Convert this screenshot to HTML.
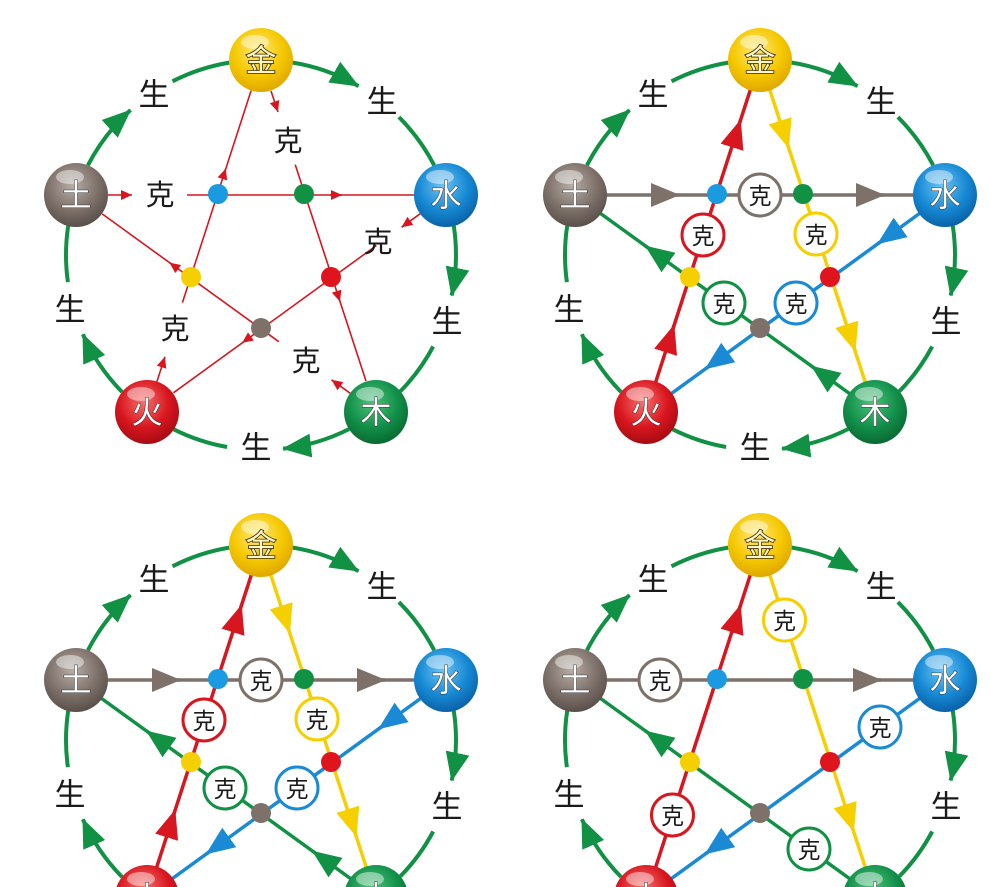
<!DOCTYPE html>
<html><head><meta charset="utf-8"><style>
html,body{margin:0;padding:0;background:#fff;width:991px;height:887px;overflow:hidden;}
svg{display:block;}
text{font-family:"Liberation Sans","Noto Sans CJK SC",sans-serif;text-anchor:middle;dominant-baseline:central;}
.s{font-size:31px;fill:#1a1a1a;}
.k{font-size:29px;fill:#1a1a1a;}
.kc{font-size:23px;fill:#1a1a1a;}
.n{font-size:31px;fill:#fff;stroke:#333;stroke-width:1;paint-order:stroke;}
.nj{font-size:31px;fill:#fff6c8;stroke:#3a2a00;stroke-width:1.6;paint-order:stroke;}
</style></head><body>
<svg width="991" height="887" viewBox="0 0 991 887" xmlns="http://www.w3.org/2000/svg">
<defs>
<radialGradient id="gJ" cx="45%" cy="35%" r="65%"><stop offset="0" stop-color="#ffe97a"/><stop offset="0.6" stop-color="#f5c800"/><stop offset="1" stop-color="#e0a800"/></radialGradient>
<radialGradient id="gS" cx="45%" cy="35%" r="65%"><stop offset="0" stop-color="#6cc3f5"/><stop offset="0.6" stop-color="#1689d4"/><stop offset="1" stop-color="#0a62a8"/></radialGradient>
<radialGradient id="gM" cx="45%" cy="35%" r="65%"><stop offset="0" stop-color="#4cc27a"/><stop offset="0.6" stop-color="#12904a"/><stop offset="1" stop-color="#0a6a32"/></radialGradient>
<radialGradient id="gH" cx="45%" cy="35%" r="65%"><stop offset="0" stop-color="#f7706e"/><stop offset="0.6" stop-color="#d8161f"/><stop offset="1" stop-color="#a80c12"/></radialGradient>
<radialGradient id="gT" cx="45%" cy="35%" r="65%"><stop offset="0" stop-color="#b8aea6"/><stop offset="0.6" stop-color="#7d716a"/><stop offset="1" stop-color="#5a504a"/></radialGradient>
<marker id="ag" markerUnits="userSpaceOnUse" markerWidth="30" markerHeight="24" refX="28" refY="12" orient="auto"><path d="M0,0 L29,12 L0,24 Z" fill="#119144"/></marker>
<marker id="ar" markerUnits="userSpaceOnUse" markerWidth="12" markerHeight="10" refX="11" refY="5" orient="auto"><path d="M0,0 L11,5 L0,10 Z" fill="#d7161f"/></marker>
<marker id="mGy" markerUnits="userSpaceOnUse" markerWidth="30" markerHeight="24" refX="28" refY="12" orient="auto"><path d="M0,0 L29,12 L0,24 Z" fill="#7d716a"/></marker>
<marker id="mY" markerUnits="userSpaceOnUse" markerWidth="30" markerHeight="24" refX="28" refY="12" orient="auto"><path d="M0,0 L29,12 L0,24 Z" fill="#f5cf00"/></marker>
<marker id="mB" markerUnits="userSpaceOnUse" markerWidth="30" markerHeight="24" refX="28" refY="12" orient="auto"><path d="M0,0 L29,12 L0,24 Z" fill="#1a8ad4"/></marker>
<marker id="mG" markerUnits="userSpaceOnUse" markerWidth="30" markerHeight="24" refX="28" refY="12" orient="auto"><path d="M0,0 L29,12 L0,24 Z" fill="#119144"/></marker>
<marker id="mR" markerUnits="userSpaceOnUse" markerWidth="30" markerHeight="24" refX="28" refY="12" orient="auto"><path d="M0,0 L29,12 L0,24 Z" fill="#d7161f"/></marker>
<g id="arcs" fill="none" stroke="#119144" stroke-width="4">
<path d="M291.5,62.4 A195,195 0 0 1 358.5,86.1" marker-end="url(#ag)"/>
<path d="M398.9,117.1 A195,195 0 0 1 434.2,165.3"/>
<path d="M453.8,225.8 A195,195 0 0 1 451.7,295.5" marker-end="url(#ag)"/>
<path d="M433.2,346.5 A195,195 0 0 1 400.3,391.4"/>
<path d="M349,429.1 A195,195 0 0 1 283.1,448.7" marker-end="url(#ag)"/>
<path d="M227.1,447 A195,195 0 0 1 173.7,429.3"/>
<path d="M122.1,392 A195,195 0 0 1 82.9,334.3" marker-end="url(#ag)"/>
<path d="M67.9,282.1 A195,195 0 0 1 68.2,225.8"/>
<path d="M87.9,165.3 A195,195 0 0 1 130.5,110.1" marker-end="url(#ag)"/>
<path d="M172.5,81.3 A195,195 0 0 1 229.2,62.6"/>
</g>
<g id="dots">
<circle cx="218" cy="194" r="10" fill="#1a9ae0"/>
<circle cx="304" cy="194" r="10" fill="#119144"/>
<circle cx="191" cy="277" r="10" fill="#f5cf00"/>
<circle cx="331" cy="277" r="10" fill="#e0141c"/>
<circle cx="261" cy="328" r="10" fill="#7d716a"/>
</g>
<g id="nodes">
<circle cx="261" cy="60" r="32" fill="url(#gJ)"/>
<circle cx="446" cy="195" r="32" fill="url(#gS)"/>
<circle cx="376" cy="412" r="32" fill="url(#gM)"/>
<circle cx="147" cy="412" r="32" fill="url(#gH)"/>
<circle cx="76" cy="195" r="32" fill="url(#gT)"/>
<ellipse cx="255" cy="42" rx="14" ry="7" fill="#fff" opacity="0.45"/>
<ellipse cx="440" cy="177" rx="14" ry="7" fill="#fff" opacity="0.45"/>
<ellipse cx="370" cy="394" rx="14" ry="7" fill="#fff" opacity="0.45"/>
<ellipse cx="141" cy="394" rx="14" ry="7" fill="#fff" opacity="0.45"/>
<ellipse cx="70" cy="177" rx="14" ry="7" fill="#fff" opacity="0.45"/>
</g>
<g id="thick" stroke-width="3.5" fill="none">
<line x1="76" y1="195" x2="446" y2="195" stroke="#7d716a"/>
<line x1="261" y1="60" x2="376" y2="412" stroke="#f5cf00"/>
<line x1="446" y1="195" x2="147" y2="412" stroke="#1a8ad4"/>
<line x1="376" y1="412" x2="76" y2="195" stroke="#119144"/>
<line x1="147" y1="412" x2="261" y2="60" stroke="#d7161f"/>
</g>
</defs>

<!-- Panel 1 -->
<g>
<use href="#arcs"/>
<g stroke="#d7161f" stroke-width="1.6" fill="none">
<path d="M108,195 L132,195" marker-end="url(#ar)"/>
<path d="M187,195 L414,195"/>
<path d="M330,195 L342,195" marker-end="url(#ar)"/>
<path d="M271,91 L278,112" marker-end="url(#ar)"/>
<path d="M295.2,164.6 L366,381"/>
<path d="M336.9,292.1 L340,301.6" marker-end="url(#ar)"/>
<path d="M420.1,213.8 L401.5,227.3" marker-end="url(#ar)"/>
<path d="M376.4,245.5 L173.4,392.8"/>
<path d="M250.2,337 L242.1,342.9" marker-end="url(#ar)"/>
<path d="M350.1,393.2 L331.5,379.8" marker-end="url(#ar)"/>
<path d="M278.8,341.7 L102.2,213.9"/>
<path d="M177.5,268.5 L169.4,262.6" marker-end="url(#ar)"/>
<path d="M156.9,381.6 L164.9,356.8" marker-end="url(#ar)"/>
<path d="M182.4,302.6 L251.1,90.6"/>
<path d="M222.7,178 L225.8,168.5" marker-end="url(#ar)"/>
</g>
<use href="#dots"/>
<text class="k" x="160" y="196">克</text>
<text class="k" x="288" y="142">克</text>
<text class="k" x="378" y="243">克</text>
<text class="k" x="306" y="362">克</text>
<text class="k" x="175" y="330">克</text>
<use href="#nodes"/>
<text class="nj" x="261" y="61">金</text>
<text class="n" x="446" y="196">水</text>
<text class="n" x="376" y="413">木</text>
<text class="n" x="147" y="413">火</text>
<text class="n" x="76" y="196">土</text>
<text class="s" x="154" y="95">生</text>
<text class="s" x="382" y="102">生</text>
<text class="s" x="447" y="322">生</text>
<text class="s" x="256" y="448">生</text>
<text class="s" x="70" y="310">生</text>
</g>

<!-- Panel 2 -->
<g transform="translate(499,0)">
<use href="#arcs"/>
<use href="#thick"/>
<g stroke-width="3.5" fill="none">
<path d="M176,195 L180,195" stroke="#7d716a" marker-end="url(#mGy)"/>
<path d="M381,195 L385,195" stroke="#7d716a" marker-end="url(#mGy)"/>
<path d="M288.4,143.7 L289.6,147.5" stroke="#f5cf00" marker-end="url(#mY)"/>
<path d="M355,347.2 L356.2,351" stroke="#f5cf00" marker-end="url(#mY)"/>
<path d="M382.1,241.4 L378.9,243.7" stroke="#1a8ad4" marker-end="url(#mB)"/>
<path d="M209.7,366.5 L206.5,368.8" stroke="#1a8ad4" marker-end="url(#mB)"/>
<path d="M316,368.6 L312.8,366.3" stroke="#119144" marker-end="url(#mG)"/>
<path d="M150,248.5 L146.8,246.2" stroke="#119144" marker-end="url(#mG)"/>
<path d="M173.8,329.3 L175,325.5" stroke="#d7161f" marker-end="url(#mR)"/>
<path d="M240.2,124.3 L241.4,120.5" stroke="#d7161f" marker-end="url(#mR)"/>
</g>
<use href="#dots"/>
<g fill="#fff" stroke-width="3">
<circle cx="261" cy="195" r="21" stroke="#7d716a"/>
<circle cx="317" cy="234" r="21" stroke="#f5cf00"/>
<circle cx="204" cy="235" r="21" stroke="#d7161f"/>
<circle cx="297" cy="303" r="21" stroke="#1a8ad4"/>
<circle cx="225" cy="303" r="21" stroke="#119144"/>
</g>
<text class="kc" x="261" y="196">克</text>
<text class="kc" x="317" y="235">克</text>
<text class="kc" x="204" y="236">克</text>
<text class="kc" x="297" y="304">克</text>
<text class="kc" x="225" y="304">克</text>
<use href="#nodes"/>
<text class="nj" x="261" y="61">金</text>
<text class="n" x="446" y="196">水</text>
<text class="n" x="376" y="413">木</text>
<text class="n" x="147" y="413">火</text>
<text class="n" x="76" y="196">土</text>
<text class="s" x="154" y="95">生</text>
<text class="s" x="382" y="102">生</text>
<text class="s" x="447" y="322">生</text>
<text class="s" x="256" y="448">生</text>
<text class="s" x="70" y="310">生</text>
</g>

<!-- Panel 3 -->
<g transform="translate(0,485)">
<use href="#arcs"/>
<use href="#thick"/>
<g stroke-width="3.5" fill="none">
<path d="M176,195 L180,195" stroke="#7d716a" marker-end="url(#mGy)"/>
<path d="M381,195 L385,195" stroke="#7d716a" marker-end="url(#mGy)"/>
<path d="M288.4,143.7 L289.6,147.5" stroke="#f5cf00" marker-end="url(#mY)"/>
<path d="M355,347.2 L356.2,351" stroke="#f5cf00" marker-end="url(#mY)"/>
<path d="M382.1,241.4 L378.9,243.7" stroke="#1a8ad4" marker-end="url(#mB)"/>
<path d="M209.7,366.5 L206.5,368.8" stroke="#1a8ad4" marker-end="url(#mB)"/>
<path d="M316,368.6 L312.8,366.3" stroke="#119144" marker-end="url(#mG)"/>
<path d="M150,248.5 L146.8,246.2" stroke="#119144" marker-end="url(#mG)"/>
<path d="M173.8,329.3 L175,325.5" stroke="#d7161f" marker-end="url(#mR)"/>
<path d="M240.2,124.3 L241.4,120.5" stroke="#d7161f" marker-end="url(#mR)"/>
</g>
<use href="#dots"/>
<g fill="#fff" stroke-width="3">
<circle cx="261" cy="195" r="21" stroke="#7d716a"/>
<circle cx="317" cy="234" r="21" stroke="#f5cf00"/>
<circle cx="204" cy="235" r="21" stroke="#d7161f"/>
<circle cx="297" cy="303" r="21" stroke="#1a8ad4"/>
<circle cx="225" cy="303" r="21" stroke="#119144"/>
</g>
<text class="kc" x="261" y="196">克</text>
<text class="kc" x="317" y="235">克</text>
<text class="kc" x="204" y="236">克</text>
<text class="kc" x="297" y="304">克</text>
<text class="kc" x="225" y="304">克</text>
<use href="#nodes"/>
<text class="nj" x="261" y="61">金</text>
<text class="n" x="446" y="196">水</text>
<text class="n" x="376" y="413">木</text>
<text class="n" x="147" y="413">火</text>
<text class="n" x="76" y="196">土</text>
<text class="s" x="154" y="95">生</text>
<text class="s" x="382" y="102">生</text>
<text class="s" x="447" y="322">生</text>
<text class="s" x="256" y="448">生</text>
<text class="s" x="70" y="310">生</text>
</g>

<!-- Panel 4 -->
<g transform="translate(499,485)">
<use href="#arcs"/>
<use href="#thick"/>
<g stroke-width="3.5" fill="none">
<path d="M378,195 L382,195" stroke="#7d716a" marker-end="url(#mGy)"/>
<path d="M353.4,342.5 L354.6,346.3" stroke="#f5cf00" marker-end="url(#mY)"/>
<path d="M209.7,366.5 L206.5,368.8" stroke="#1a8ad4" marker-end="url(#mB)"/>
<path d="M150,248.5 L146.8,246.2" stroke="#119144" marker-end="url(#mG)"/>
<path d="M240.2,124.3 L241.4,120.5" stroke="#d7161f" marker-end="url(#mR)"/>
</g>
<use href="#dots"/>
<g fill="#fff" stroke-width="3">
<circle cx="161" cy="195" r="21" stroke="#7d716a"/>
<circle cx="285.5" cy="135" r="21" stroke="#f5cf00"/>
<circle cx="381" cy="242" r="21" stroke="#1a8ad4"/>
<circle cx="310" cy="364" r="21" stroke="#119144"/>
<circle cx="173.5" cy="330" r="21" stroke="#d7161f"/>
</g>
<text class="kc" x="161" y="196">克</text>
<text class="kc" x="285.5" y="136">克</text>
<text class="kc" x="381" y="243">克</text>
<text class="kc" x="310" y="365">克</text>
<text class="kc" x="173.5" y="331">克</text>
<use href="#nodes"/>
<text class="nj" x="261" y="61">金</text>
<text class="n" x="446" y="196">水</text>
<text class="n" x="376" y="413">木</text>
<text class="n" x="147" y="413">火</text>
<text class="n" x="76" y="196">土</text>
<text class="s" x="154" y="95">生</text>
<text class="s" x="382" y="102">生</text>
<text class="s" x="447" y="322">生</text>
<text class="s" x="256" y="448">生</text>
<text class="s" x="70" y="310">生</text>
</g>
</svg>
</body></html>
